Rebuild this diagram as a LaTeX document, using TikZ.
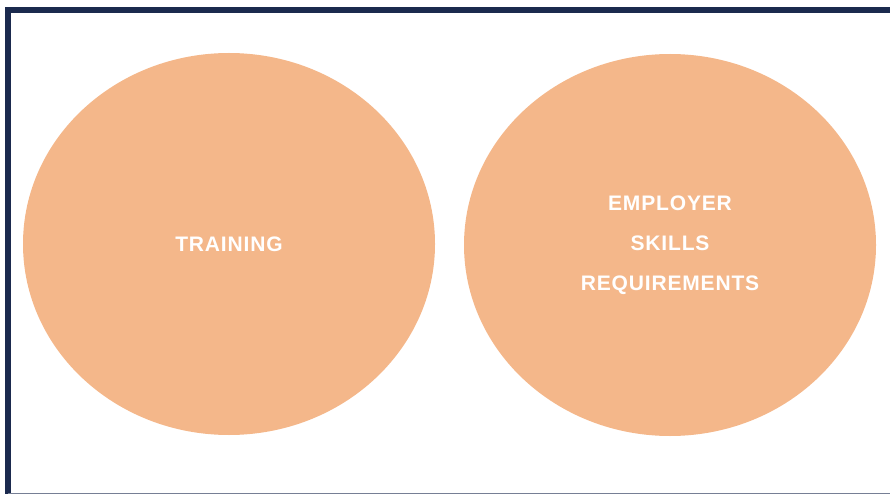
\documentclass[tikz,border=0pt]{standalone}
\usepackage{fontspec}
\setmainfont{Liberation Sans}[LetterSpace=4]
\usetikzlibrary{shapes.geometric}

\definecolor{frame}{HTML}{1B2A4E}
\definecolor{peach}{HTML}{F4B78A}

\begin{document}
\begin{tikzpicture}[x=1pt, y=-1pt,
    bubble/.style={ellipse, fill=peach, draw=none, inner sep=0pt,
      minimum width=412pt, minimum height=382pt,
      text=white, align=center, font=\fontsize{21}{40}\selectfont\bfseries}]
    \useasboundingbox (0, 0) rectangle (890, 494);
    \draw[frame, line width=5.5pt] (8, 495.5) -- (8, 10) -- (900, 10);
    \draw[frame!60, line width=1.5pt] (8, 493.5) -- (900, 493.5);
    \node[bubble] (training) at (229, 244) {TRAINING};
    \node[bubble] (employer) at (670, 245) {EMPLOYER\\SKILLS\\REQUIREMENTS};
  \end{tikzpicture}
\end{document}
